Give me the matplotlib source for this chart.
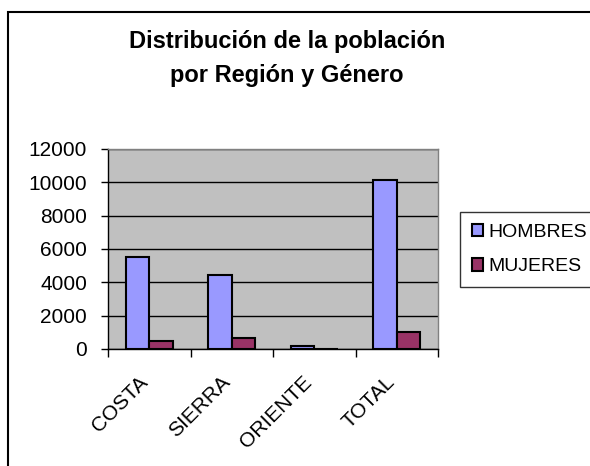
import matplotlib
matplotlib.use("Agg")
import matplotlib.pyplot as plt
import numpy as np
from matplotlib.patches import Rectangle

plt.rcParams['font.family'] = ['Liberation Sans', 'DejaVu Sans']

# data
regiones = ["COSTA", "SIERRA", "ORIENTE", "TOTAL"]
hombres = [5500, 4420, 200, 10160]
mujeres = [460, 680, 0, 1040]
yticks = [0, 2000, 4000, 6000, 8000, 10000, 12000]
titulo = ["Distribución de la población", "por Región y Género"]

W, H = 590, 466
fig = plt.figure(figsize=(W / 100, H / 100), dpi=100)

# plot area in pixels: x 108..438, y 149..349
ax = fig.add_axes([108 / W, (H - 349) / H, 330 / W, 200 / H])
ax.set_facecolor("#C0C0C0")

x = np.arange(len(regiones))
bw = 0.283
ax.bar(x - bw / 2, hombres, bw, color="#9999FF", edgecolor="black", linewidth=1.5,
       label="HOMBRES", zorder=3)
ax.bar(x + bw / 2, mujeres, bw, color="#993366", edgecolor="black", linewidth=1.5,
       label="MUJERES", zorder=3)

ax.set_xlim(-0.5, len(regiones) - 0.5)
ax.set_ylim(0, 12000)
ax.set_yticks(yticks)
ax.set_yticklabels([str(v) for v in yticks], fontsize=15)
ax.yaxis.grid(True, color="black", linewidth=1)
ax.set_axisbelow(True)

# x ticks at category boundaries, labels near centres (slightly left, like Excel)
ax.set_xticks(np.arange(len(regiones) + 1) - 0.5)
ax.set_xticklabels([])
ax.set_xticks(x - 0.14, minor=True)
ax.set_xticklabels(regiones, minor=True, rotation=45, ha="right", va="top",
                   rotation_mode="anchor", fontsize=15)
ax.tick_params(axis="x", which="minor", length=0, pad=17)
ax.tick_params(axis="x", which="major", length=6, width=1, direction="out")
ax.tick_params(axis="y", length=5, width=1, direction="out", pad=10)

for s in ["left", "bottom"]:
    ax.spines[s].set_color("black")
    ax.spines[s].set_linewidth(1)
for s in ["top", "right"]:
    ax.spines[s].set_color("#808080")
    ax.spines[s].set_linewidth(1)

fig.text(287 / W, 1 - 48 / H, titulo[0], ha="center", va="baseline",
         fontsize=17, fontweight="bold")
fig.text(287 / W, 1 - 82 / H, titulo[1], ha="center", va="baseline",
         fontsize=17, fontweight="bold")

leg = fig.legend(loc="upper left", bbox_to_anchor=(460 / W, 1 - 212 / H),
                 fontsize=14, frameon=True, fancybox=False, handlelength=0.6,
                 handleheight=0.6, handletextpad=0.25, labelspacing=0.9,
                 borderpad=0.6, borderaxespad=0)
leg.get_frame().set_edgecolor("black")
leg.get_frame().set_linewidth(1)

# chart outer border (left and top visible)
fig.patches.append(Rectangle((8 / W, -0.05), 1.0, 1 - 12 / H + 0.05,
                             transform=fig.transFigure, fill=False,
                             edgecolor="black", linewidth=1.5))

fig.savefig("out.png", dpi=100)
